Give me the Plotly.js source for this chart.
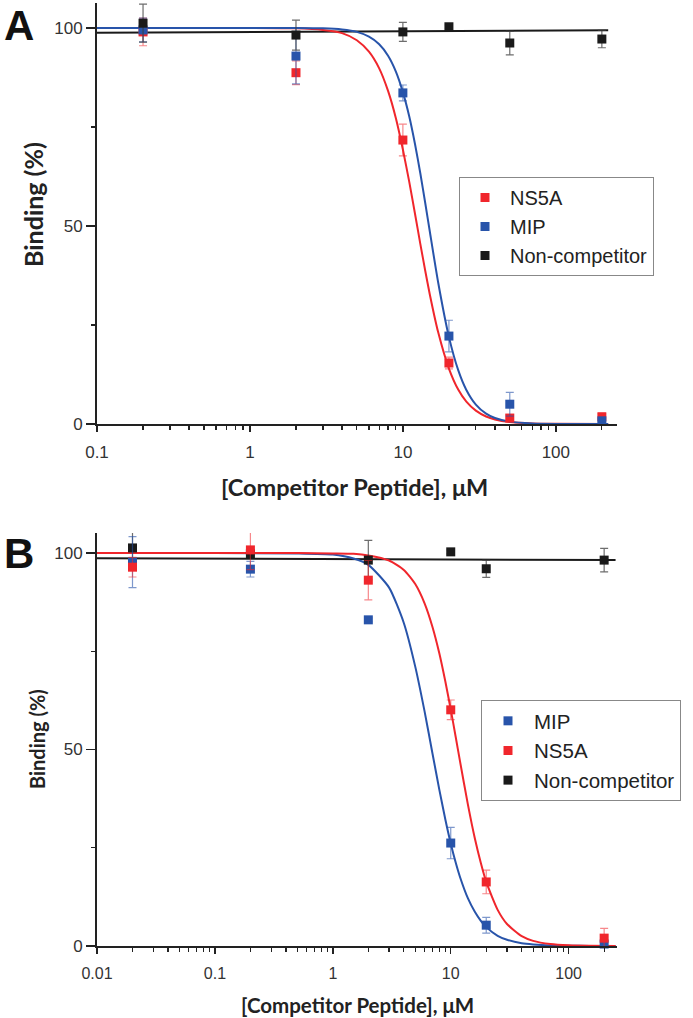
<!DOCTYPE html>
<html><head><meta charset="utf-8">
<script src="https://cdn.plot.ly/plotly-3.0.1.min.js"></script>
<style>html,body{margin:0;padding:0;background:#fff}</style>
</head><body><div id="chart" style="width:693px;height:1018px"></div>
<script>
// ---------- Panel A ----------
const concA = [0.2, 2, 10, 20, 50, 200];
const ns5aA = [99, 88.7, 71.7, 15.4, 1.5, 1.8];
const ns5aAErr = [3.5, 3, 4, 1.5, 0.8, 1];
const mipA = [99.5, 92.9, 83.6, 22.2, 5, 0.8];
const mipAErr = [3, 7, 2, 4, 3, 0.5];
const nonA = [101.2, 98.2, 99, 100.3, 96.2, 97.2];
const nonAErr = [4.8, 3.8, 2.4, 0.5, 3, 2.2];
// fitted curves, values
const fitXA = [0.1, 1, 2, 3, 4, 5, 6, 7, 8, 9, 10, 11, 12, 13, 14, 15, 17, 20, 23, 26, 30, 35, 40, 50, 70, 100, 220];
const fitNs5aA = [100, 100, 99.9, 99.5, 98.7, 96.9, 94.0, 89.8, 84.1, 77.2, 69.3, 61.2, 53.1, 45.5, 38.7, 32.7, 23.2, 14.0, 8.7, 5.65, 3.37, 1.9, 1.15, 0.5, 0.14, 0.04, 0];
const fitMipA = [100, 100, 100, 99.9, 99.6, 99.0, 97.8, 95.9, 93.0, 89.0, 83.8, 77.7, 70.7, 63.3, 55.8, 48.6, 35.8, 22.0, 13.6, 8.6, 4.9, 2.6, 1.5, 0.6, 0.15, 0.03, 0];
const fitNonXA = [0.1, 220];
const fitNonA = [98.8, 99.4];

// ---------- Panel B ----------
const concB = [0.02, 0.2, 2, 10, 20, 200];
const mipB = [97.7, 95.9, 83, 26.2, 5.3, 0.5];
const mipBErr = [6.5, 2, 0.5, 4, 2, 0.5];
const ns5aB = [96.4, 100.8, 93.1, 60.1, 16.3, 2];
const ns5aBErr = [2.5, 5, 5, 2.5, 3, 2.5];
const nonB = [101.3, 99.8, 98.2, 100.3, 96, 98.2];
const nonBErr = [4, 0.5, 5, 0.5, 2.2, 3];
const fitXB = [0.01, 0.1, 0.5, 1, 1.5, 2, 3, 4, 5, 6, 7, 8, 9, 10, 11, 12, 14, 16, 18, 20, 25, 30, 40, 50, 70, 100, 150, 250];
const fitMipB = [100, 100, 99.9, 99.6, 98.6, 97.0, 91.2, 82.2, 71.1, 59.7, 49.0, 39.8, 32.2, 26.1, 21.3, 17.5, 12.1, 8.7, 6.4, 4.8, 2.6, 1.6, 0.7, 0.4, 0.15, 0.06, 0.02, 0];
const fitNs5aB = [100, 100, 100, 99.9, 99.8, 99.4, 98.1, 95.7, 92.1, 87.2, 81.2, 74.5, 67.3, 60.2, 53.3, 46.9, 35.9, 27.4, 21.1, 16.3, 9.2, 5.6, 2.5, 1.3, 0.5, 0.17, 0.05, 0.01];
const fitNonXB = [0.01, 250];
const fitNonB = [98.7, 98.2];

// ticks
const xTicksA = [0.1, 1, 10, 100];
const xTickTextA = ['0.1', '1', '10', '100'];
const xTicksB = [0.01, 0.1, 1, 10, 100];
const xTickTextB = ['0.01', '0.1', '1', '10', '100'];
const xMinor = [0.02,0.03,0.04,0.05,0.06,0.07,0.08,0.09,0.2,0.3,0.4,0.5,0.6,0.7,0.8,0.9,2,3,4,5,6,7,8,9,20,30,40,50,60,70,80,90,200];
const yTicks = [0, 50, 100];
const yMinor = [25, 75];

const RED = 'rgb(240,38,44)', BLUE = 'rgb(40,84,170)', BLACK = 'rgb(26,26,26)';
const RED_E = 'rgba(240,38,44,0.55)', BLUE_E = 'rgba(40,84,170,0.6)', BLACK_E = 'rgba(60,60,60,0.75)';

function line(x, y, color, xa, ya) {
  return {x, y, xaxis: xa, yaxis: ya, type: 'scatter', mode: 'lines', showlegend: false,
    line: {color, width: 2, shape: 'spline', smoothing: 0.6}, hoverinfo: 'skip'};
}
function pts(name, x, y, err, color, ecolor, xa, ya, legend, rank) {
  return {name, x, y, xaxis: xa, yaxis: ya, type: 'scatter', mode: 'markers', legend, legendrank: rank,
    cliponaxis: false,
    marker: {symbol: 'square', size: 9, color},
    error_y: {type: 'data', array: err, visible: true, color: ecolor, thickness: 1.2, width: 4}};
}

const data = [
  line(fitNonXA, fitNonA, BLACK, 'x', 'y'),
  line(fitXA, fitNs5aA, RED, 'x', 'y'),
  line(fitXA, fitMipA, BLUE, 'x', 'y'),
  pts('NS5A', concA, ns5aA, ns5aAErr, RED, RED_E, 'x', 'y', 'legend', 1),
  pts('MIP', concA, mipA, mipAErr, BLUE, BLUE_E, 'x', 'y', 'legend', 2),
  pts('Non-competitor', concA, nonA, nonAErr, BLACK, BLACK_E, 'x', 'y', 'legend', 3),

  line(fitNonXB, fitNonB, BLACK, 'x2', 'y2'),
  line(fitXB, fitMipB, BLUE, 'x2', 'y2'),
  line(fitXB, fitNs5aB, RED, 'x2', 'y2'),
  pts('Non-competitor', concB, nonB, nonBErr, BLACK, BLACK_E, 'x2', 'y2', 'legend2', 3),
  pts('MIP', concB, mipB, mipBErr, BLUE, BLUE_E, 'x2', 'y2', 'legend2', 1),
  pts('NS5A', concB, ns5aB, ns5aBErr, RED, RED_E, 'x2', 'y2', 'legend2', 2)
];

const tickFont = {family: 'Liberation Sans, Arial, sans-serif', size: 17, color: '#333'};
function xax(range, tv, tt, anchor, fs) {
  return {type: 'log', domain: [97/693, 617/693], range, anchor,
    tickmode: 'array', tickvals: tv, ticktext: tt, ticks: 'outside', ticklen: 6, tickwidth: 1.5,
    tickcolor: '#222', ticklabelstandoff: 6,
    minor: {tickmode: 'array', tickvals: xMinor, ticks: 'outside', ticklen: 4, tickwidth: 1.2, tickcolor: '#222', showgrid: false},
    showline: true, linecolor: '#222', linewidth: 2, showgrid: false, zeroline: false,
    tickfont: {family: 'Liberation Sans, Arial, sans-serif', size: fs, color: '#333'}};
}
function yax(domain, range, anchor) {
  return {domain, range, anchor, tickmode: 'array', tickvals: yTicks, ticktext: ['0','50','100'],
    ticks: 'outside', ticklen: 9, tickwidth: 1.5, tickcolor: '#222',
    minor: {tickmode: 'array', tickvals: yMinor, ticks: 'outside', ticklen: 4, tickwidth: 1.2, tickcolor: '#222', showgrid: false},
    showline: true, linecolor: '#222', linewidth: 2, showgrid: false, zeroline: false,
    tickfont: tickFont};
}
const titleFont = (s) => ({family: 'Lato, Open Sans, sans-serif', size: s, color: '#222', weight: 'bold'});

const layout = {
  width: 693, height: 1018, margin: {l: 0, r: 0, t: 0, b: 0},
  paper_bgcolor: '#fff', plot_bgcolor: '#fff',
  xaxis: xax([-1, 2.4], xTicksA, xTickTextA, 'y', 17),
  yaxis: yax([1 - 424/1018, 1 - 3/1018], [0, 106.3], 'x'),
  xaxis2: xax([-2, 2.41], xTicksB, xTickTextB, 'y2', 16),
  yaxis2: yax([1 - 946/1018, 1 - 533/1018], [0, 105.1], 'x2'),
  legend: {x: 459/693, y: 1 - 177/1018, xanchor: 'left', yanchor: 'top', bgcolor: '#fff',
    bordercolor: '#888', borderwidth: 1, itemwidth: 40, tracegroupgap: 0,
    font: {family: 'Liberation Sans, Arial, sans-serif', size: 20, color: '#222'}},
  legend2: {x: 481/693, y: 1 - 700/1018, xanchor: 'left', yanchor: 'top', bgcolor: '#fff',
    bordercolor: '#888', borderwidth: 1, itemwidth: 42, tracegroupgap: 0,
    font: {family: 'Liberation Sans, Arial, sans-serif', size: 20.5, color: '#222'}},
  annotations: [
    {text: 'A', xref: 'paper', yref: 'paper', x: 19/693, y: 1 - 25/1018, xanchor: 'center', yanchor: 'middle', showarrow: false,
      font: {family: 'Liberation Sans, Arial, sans-serif', size: 42, color: '#111', weight: 'bold'}},
    {text: 'B', xref: 'paper', yref: 'paper', x: 19/693, y: 1 - 553/1018, xanchor: 'center', yanchor: 'middle', showarrow: false,
      font: {family: 'Liberation Sans, Arial, sans-serif', size: 42, color: '#111', weight: 'bold'}},
    {text: '[Competitor Peptide], μM', xref: 'paper', yref: 'paper', x: 354/693, y: 1 - 487/1018, xanchor: 'center', yanchor: 'middle', showarrow: false, font: titleFont(23.5)},
    {text: '[Competitor Peptide], μM', xref: 'paper', yref: 'paper', x: 357/693, y: 1 - 1005/1018, xanchor: 'center', yanchor: 'middle', showarrow: false, font: titleFont(20.5)},
    {text: 'Binding (%)', xref: 'paper', yref: 'paper', x: 33/693, y: 1 - 205/1018, xanchor: 'center', yanchor: 'middle', textangle: -90, showarrow: false, font: titleFont(25)},
    {text: 'Binding (%)', xref: 'paper', yref: 'paper', x: 37/693, y: 1 - 739/1018, xanchor: 'center', yanchor: 'middle', textangle: -90, showarrow: false, font: titleFont(20)}
  ]
};

Plotly.newPlot('chart', data, layout, {staticPlot: true, displayModeBar: false});
</script>
</body></html>
